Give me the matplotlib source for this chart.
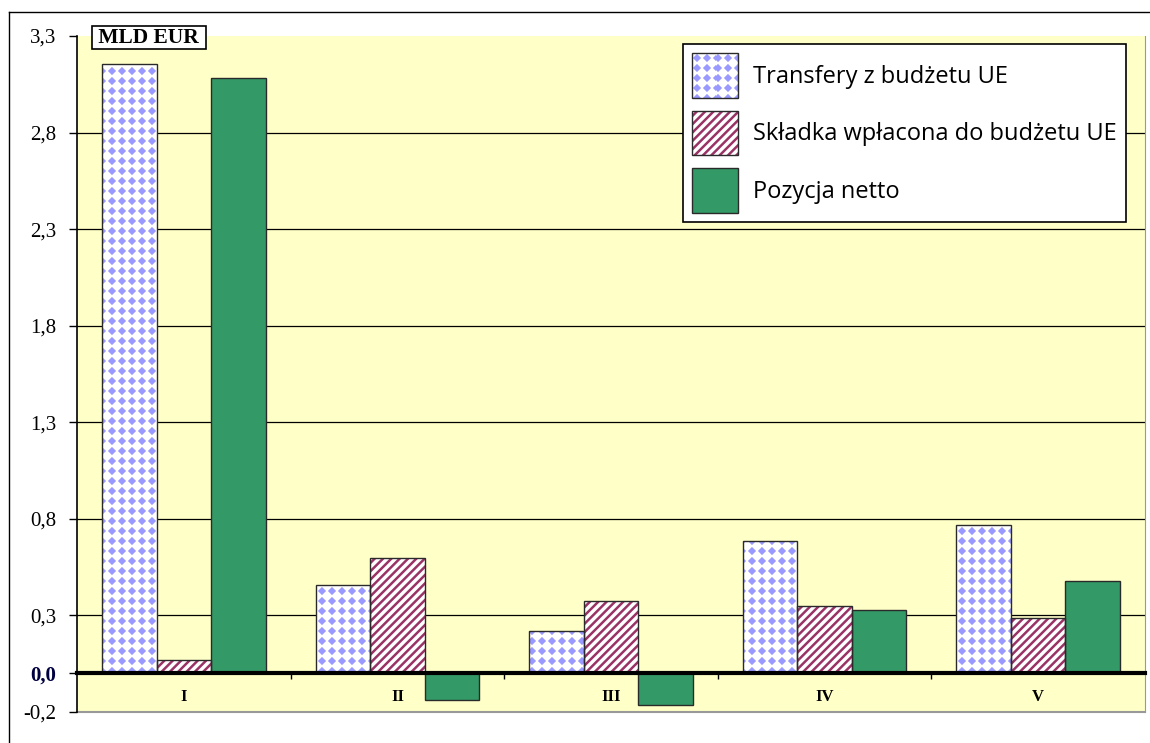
import numpy as np
import matplotlib
matplotlib.use("Agg")
import matplotlib.pyplot as plt
from matplotlib.patches import Patch, Rectangle
from matplotlib.lines import Line2D
from matplotlib.path import Path
from matplotlib.image import BboxImage
from matplotlib.transforms import Bbox, TransformedBbox
from matplotlib.legend_handler import HandlerBase

categories = ["I", "II", "III", "IV", "V"]
transfery = [3.155, 0.457, 0.218, 0.686, 0.769]
skladka = [0.068, 0.598, 0.374, 0.348, 0.286]
netto = [3.08, -0.14, -0.166, 0.327, 0.478]
yticks = [-0.2, 0.0, 0.3, 0.8, 1.3, 1.8, 2.3, 2.8, 3.3]
ytick_labels = ["-0,2", "0,0", "0,3", "0,8", "1,3", "1,8", "2,3", "2,8", "3,3"]
legend_labels = ["Transfery z budżetu UE", "Składka wpłacona do budżetu UE", "Pozycja netto"]

yellow = "#FFFFC8"
blue = "#9999FF"
maroon = "#993366"
green = "#339966"
edge = "#2a2a2a"


def diamonds(h, w, cell=10.0, r=4.1):
    # blue diamonds on white, square grid (Excel-like pattern fill)
    yy, xx = np.mgrid[0:h, 0:w] + 0.5
    d = np.abs((xx % cell) - cell / 2) + np.abs((yy % cell) - cell / 2)
    a = np.clip(r + 0.5 - d, 0, 1)[..., None]
    c = np.array(matplotlib.colors.to_rgb(blue))
    return (1 - a) * np.ones(3) + a * c


class DiamondHandler(HandlerBase):
    def create_artists(self, legend, orig_handle, xdescent, ydescent, width, height, fontsize, trans):
        bb = TransformedBbox(Bbox.from_bounds(-xdescent, -ydescent, width, height), trans)
        img = BboxImage(bb, interpolation="nearest")
        img.set_data(diamonds(45, 46))
        box = Rectangle((-xdescent, -ydescent), width, height, fill=False, edgecolor=edge,
                        linewidth=1, transform=trans)
        return [img, box]


plt.rcParams['hatch.linewidth'] = 1.8

fig = plt.figure(figsize=(11.5, 7.43), dpi=100)
ax = fig.add_axes([77/1150, 1 - 712/743, 1068/1150, 676/743])
ax.set_facecolor(yellow)

x = np.arange(len(categories))
w = 0.255

blue_bars = ax.bar(x - w, transfery, w, color="white", linewidth=0, zorder=2)
ax.bar(x, skladka, w, color="white", edgecolor=maroon, hatch="////", linewidth=0, zorder=2)
ax.bar(x + w, netto, w, color=green, linewidth=0, zorder=2)
for off, vals in [(-w, transfery), (0, skladka), (w, netto)]:
    ax.bar(x + off, vals, w, fill=False, edgecolor=edge, linewidth=1.0, zorder=3)

# pattern image over the whole axes, clipped to the blue bars
img = ax.imshow(diamonds(676, 1068), extent=(-0.5, len(categories) - 0.5, -0.2, 3.3),
                aspect="auto", interpolation="nearest", zorder=2.5)
clip = Path.make_compound_path(*[b.get_path().transformed(b.get_patch_transform()) for b in blue_bars])
img.set_clip_path(clip, ax.transData)
ax.set_xlim(-0.5, len(categories) - 0.5)
ax.set_ylim(-0.2, 3.3)

ax.set_yticks(yticks)
ax.set_yticklabels(ytick_labels, fontfamily="Liberation Serif", fontsize=15)
ax.get_yticklabels()[1].set_fontweight("bold")
ax.get_yticklabels()[1].set_color("#000040")
ax.tick_params(axis="y", direction="out", length=6, width=1, pad=9)

for yv in yticks[2:-1]:
    ax.axhline(yv, color="black", linewidth=0.9, zorder=1)

ax.spines["top"].set_visible(False)
ax.spines["right"].set_color("#999999")
ax.spines["left"].set_color("black")
ax.spines["left"].set_linewidth(1.2)
ax.spines["bottom"].set_position(("data", 0))
ax.spines["bottom"].set_linewidth(3)
ax.spines["bottom"].set_zorder(4)
ax.axhline(-0.2, color="#999999", linewidth=1.5, clip_on=False, zorder=1)

ax.set_xticks(x)
ax.set_xticklabels(categories, fontfamily="Liberation Serif", fontsize=12, fontweight="bold")
ax.set_xticks(np.arange(len(categories) - 1) + 0.5, minor=True)
ax.tick_params(axis="x", which="major", length=0, pad=11)
ax.tick_params(axis="x", which="minor", length=4, width=1, direction="out")

ax.text(0.0674, 0.9975, " MLD EUR ", transform=ax.transAxes, ha="center", va="center",
        fontfamily="Liberation Serif", fontsize=15.5, fontweight="bold", clip_on=False, zorder=6,
        bbox=dict(boxstyle="square,pad=0.08", facecolor="white", edgecolor="black", linewidth=1.2))

blue_handle = Patch(facecolor="white")
handles = [
    blue_handle,
    (Patch(facecolor="white", edgecolor=maroon, hatch="////", linewidth=0), Patch(fill=False, edgecolor=edge, linewidth=1)),
    (Patch(facecolor=green, linewidth=0), Patch(fill=False, edgecolor=edge, linewidth=1)),
]
leg = ax.legend(handles, legend_labels, loc="upper center", bbox_to_anchor=(0.7748, 0.988),
                handler_map={blue_handle: DiamondHandler()},
                prop={"family": "Open Sans", "size": 17}, fancybox=False, framealpha=1,
                edgecolor="black", handlelength=1.95, handleheight=2.55, labelspacing=0.53,
                borderpad=0.38, handletextpad=0.65, borderaxespad=0)
leg.get_frame().set_linewidth(1.2)
leg.set_zorder(7)

# outer frame
fig.add_artist(Line2D([9/1150, 1], [1 - 12/743, 1 - 12/743], color="black", linewidth=1))
fig.add_artist(Line2D([9/1150, 9/1150], [0, 1 - 12/743], color="black", linewidth=1))

fig.savefig("out.png", dpi=100)
